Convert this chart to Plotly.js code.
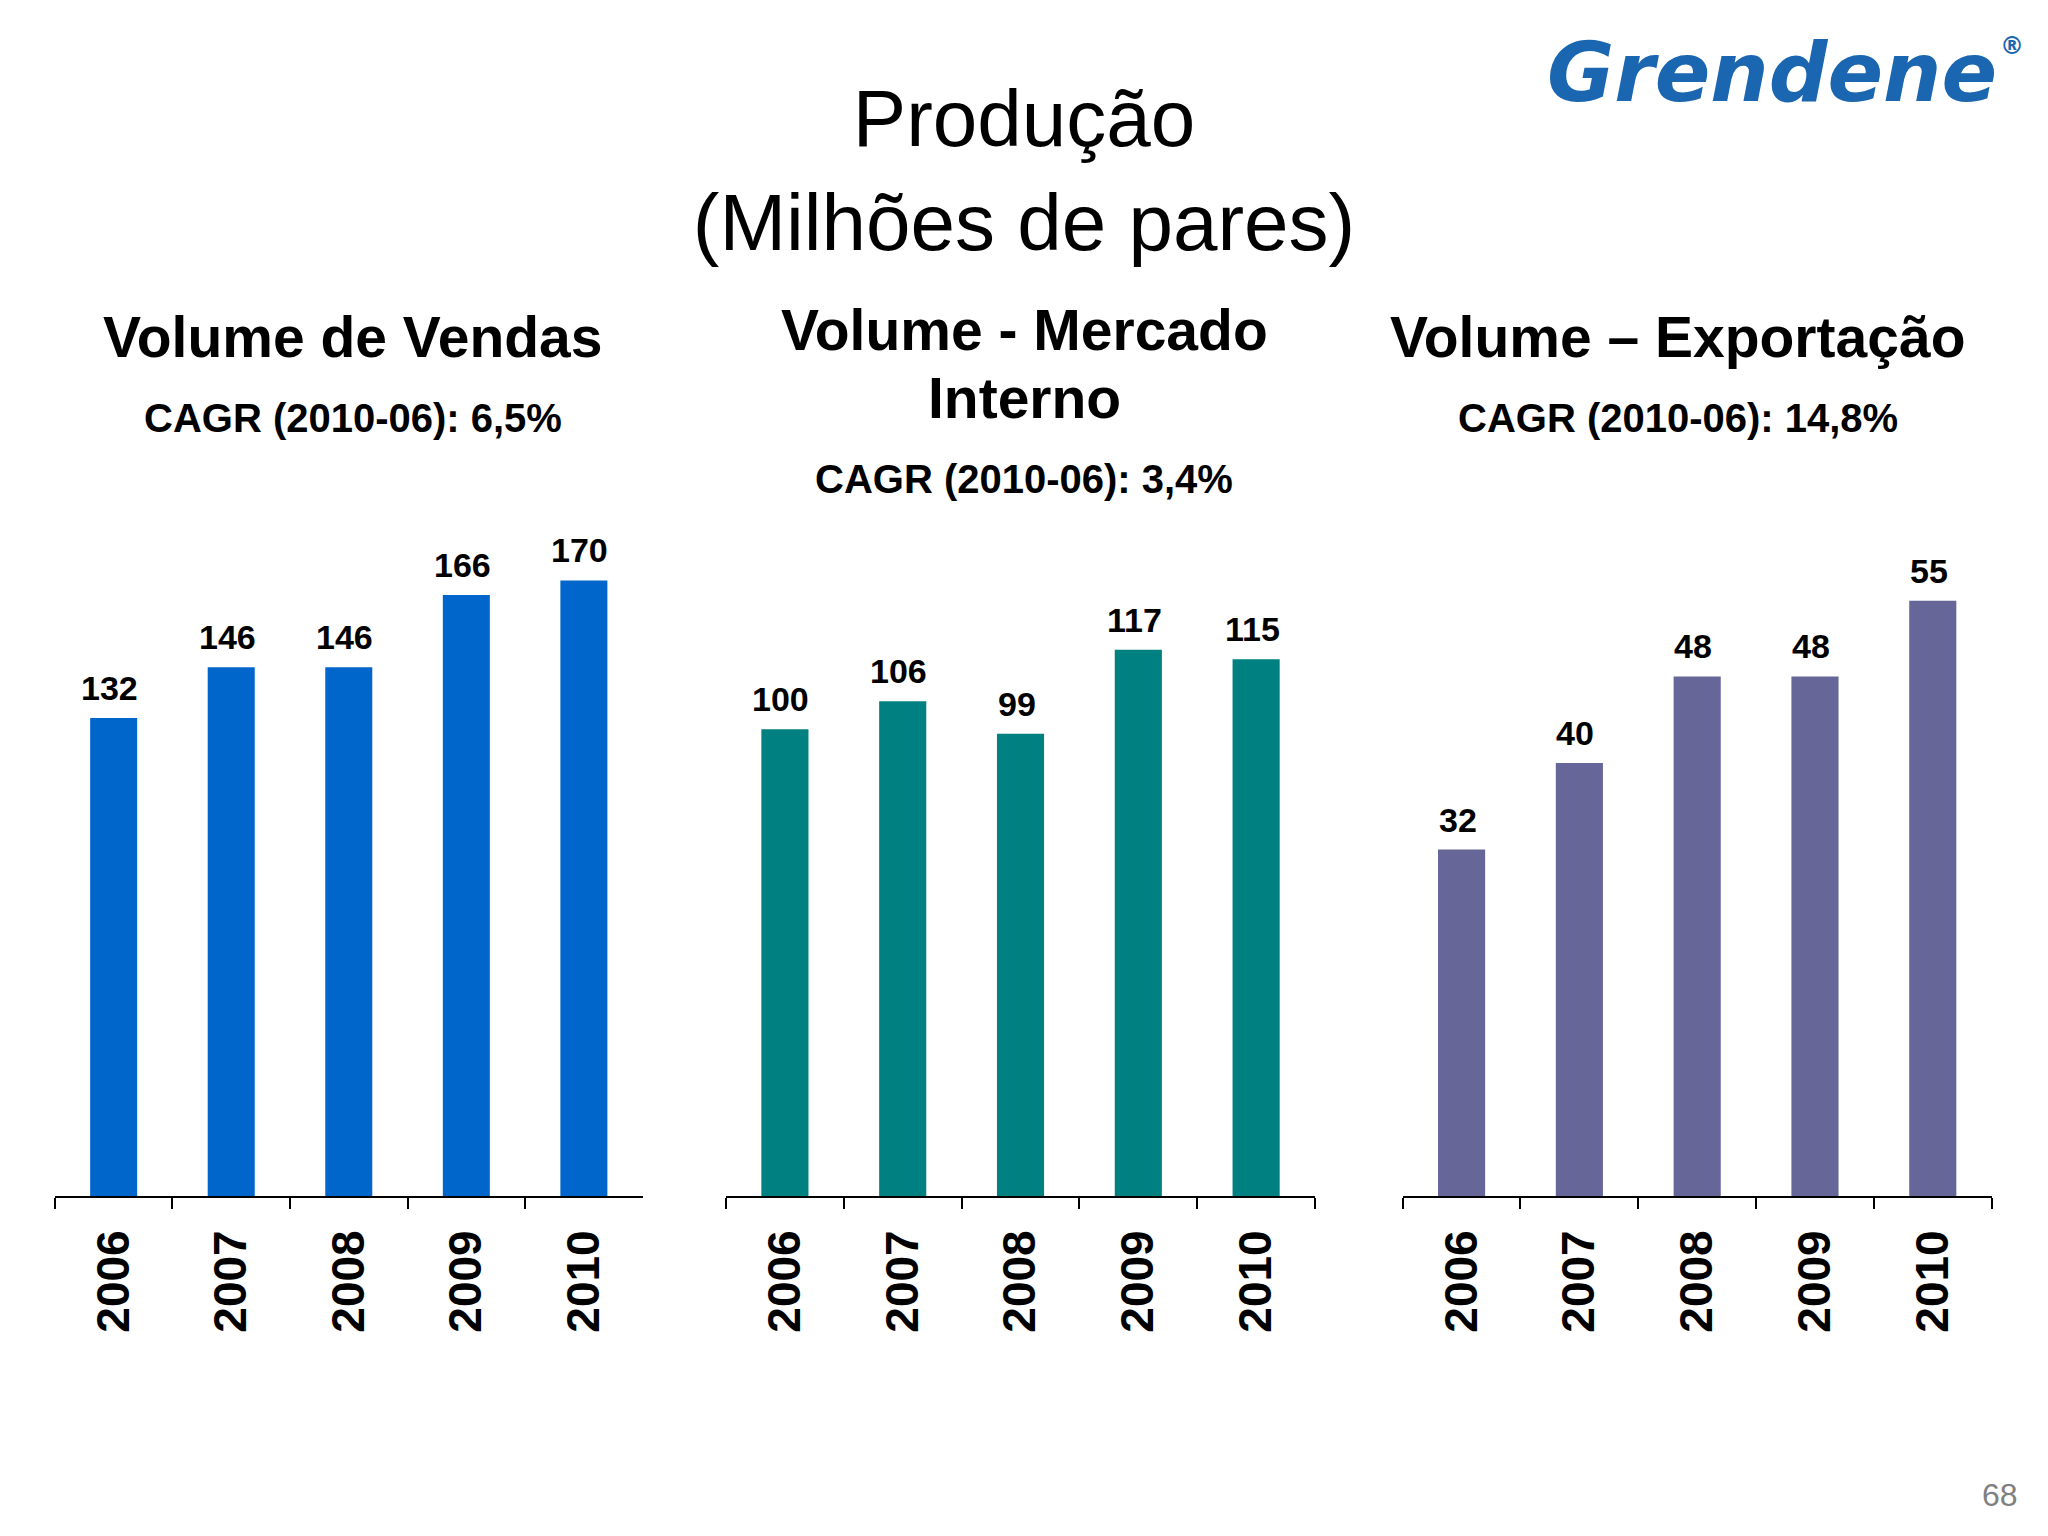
<!DOCTYPE html>
<html>
<head>
<meta charset="utf-8">
<script src="https://cdn.plot.ly/plotly-3.0.1.min.js"></script>
<style>html,body{margin:0;padding:0;background:#fff;}#chart{width:2048px;height:1536px;}</style>
</head>
<body>
<div id="chart"></div>
<script>
const years = ['2006', '2007', '2008', '2009', '2010'];
const vendas = [132, 146, 146, 166, 170];
const mercadoInterno = [100, 106, 99, 117, 115];
const exportacao = [32, 40, 48, 48, 55];

const panelTitles = ['Volume de Vendas', 'Volume - Mercado', 'Volume – Exportação'];
const panelTitles2 = ['', 'Interno', ''];
const cagrLabels = ['CAGR (2010-06): 6,5%', 'CAGR (2010-06): 3,4%', 'CAGR (2010-06): 14,8%'];
const colors = ['#0066CC', '#008080', '#666699'];

const FONT = 'Liberation Sans, Arial, sans-serif';
const series = [vendas, mercadoInterno, exportacao];
const axisNames = [['x', 'y'], ['x2', 'y2'], ['x3', 'y3']];
const xDomains = [[0.0268, 0.3138], [0.3545, 0.6421], [0.6849, 0.9725]];
const yRanges = [[0, 198.8], [0, 154.2], [0, 66.5]];
const yDomain = [0.2214, 0.690];

const traces = series.map((vals, i) => ({
  type: 'bar',
  x: years,
  y: vals,
  xaxis: axisNames[i][0],
  yaxis: axisNames[i][1],
  marker: {color: colors[i], line: {width: 0}},
  hoverinfo: 'x+y',
  showlegend: false
}));

const layout = {
  width: 2048,
  height: 1536,
  margin: {l: 0, r: 0, t: 0, b: 0},
  paper_bgcolor: '#ffffff',
  plot_bgcolor: 'rgba(0,0,0,0)',
  bargap: 0.6,
  showlegend: false,
  title: {
    text: 'Produção<br>(Milhões de pares)',
    font: {family: FONT, size: 80, color: '#000000'},
    x: 0.5, xanchor: 'center',
    xref: 'paper',
    yref: 'container',
    y: 1 - 146 / 1536, yanchor: 'middle'
  },
  annotations: []
};

for (let i = 0; i < 3; i++) {
  const xs = i === 0 ? '' : String(i + 1);
  layout['xaxis' + xs] = {
    domain: xDomains[i],
    anchor: 'y' + xs,
    type: 'category',
    range: [-0.5, 4.5],
    showline: true, linecolor: '#000000', linewidth: 2,
    ticks: 'outside', tickson: 'boundaries', ticklen: 11, tickwidth: 2, tickcolor: '#000000',
    tickangle: -90,
    tickfont: {family: FONT, size: 46, color: '#000000', weight: 'bold'},
    ticklabelstandoff: 14,
    showgrid: false, zeroline: false, fixedrange: true
  };
  layout['yaxis' + xs] = {
    domain: yDomain,
    anchor: 'x' + xs,
    range: yRanges[i],
    visible: false, showgrid: false, zeroline: false, fixedrange: true
  };
  const cx = (xDomains[i][0] + xDomains[i][1]) / 2 + 0.0018;
  // Data labels placed via the axes' own scales (category serial index)
  series[i].forEach((v, j) => {
    layout.annotations.push({
      xref: axisNames[i][0], yref: axisNames[i][1],
      x: j, y: v,
      text: String(v),
      showarrow: false,
      xanchor: 'center', yanchor: 'bottom', yshift: 9, xshift: -4,
      font: {family: FONT, size: 34, color: '#000000', weight: 'bold'}
    });
  });
  // Panel titles
  if (i === 1) {
    layout.annotations.push({xref: 'paper', yref: 'paper', x: cx, y: 1 - 330 / 1536, text: panelTitles[i],
      showarrow: false, xanchor: 'center', yanchor: 'middle', font: {family: FONT, size: 57, color: '#000', weight: 'bold'}});
    layout.annotations.push({xref: 'paper', yref: 'paper', x: cx, y: 1 - 398 / 1536, text: panelTitles2[i],
      showarrow: false, xanchor: 'center', yanchor: 'middle', font: {family: FONT, size: 57, color: '#000', weight: 'bold'}});
    layout.annotations.push({xref: 'paper', yref: 'paper', x: cx, y: 1 - 479 / 1536, text: cagrLabels[i],
      showarrow: false, xanchor: 'center', yanchor: 'middle', font: {family: FONT, size: 40, color: '#000', weight: 'bold'}});
  } else {
    const tx = i === 0 ? 352.6 / 2048 : 1677.6 / 2048;
    layout.annotations.push({xref: 'paper', yref: 'paper', x: tx, y: 1 - 337 / 1536, text: panelTitles[i],
      showarrow: false, xanchor: 'center', yanchor: 'middle', font: {family: FONT, size: 57, color: '#000', weight: 'bold'}});
    layout.annotations.push({xref: 'paper', yref: 'paper', x: tx, y: 1 - 418 / 1536, text: cagrLabels[i],
      showarrow: false, xanchor: 'center', yanchor: 'middle', font: {family: FONT, size: 40, color: '#000', weight: 'bold'}});
  }
}

// Logo text and page number
layout.annotations.push({xref: 'paper', yref: 'paper', x: 1772 / 2048, y: 1 - 72 / 1536, text: 'Grendene',
  showarrow: false, xanchor: 'center', yanchor: 'middle',
  font: {family: 'DejaVu Sans, sans-serif', size: 82, color: '#1a66b0', weight: 'bold', style: 'italic'}});
layout.annotations.push({xref: 'paper', yref: 'paper', x: 2012 / 2048, y: 1 - 46 / 1536, text: '®',
  showarrow: false, xanchor: 'center', yanchor: 'middle',
  font: {family: 'DejaVu Sans, sans-serif', size: 24, color: '#1a66b0', weight: 'bold'}});
layout.annotations.push({xref: 'paper', yref: 'paper', x: 2000 / 2048, y: 1 - 1495 / 1536, text: '68',
  showarrow: false, xanchor: 'center', yanchor: 'middle',
  font: {family: FONT, size: 32, color: '#808080'}});

Plotly.newPlot('chart', traces, layout, {staticPlot: true, displayModeBar: false});
</script>
</body>
</html>
